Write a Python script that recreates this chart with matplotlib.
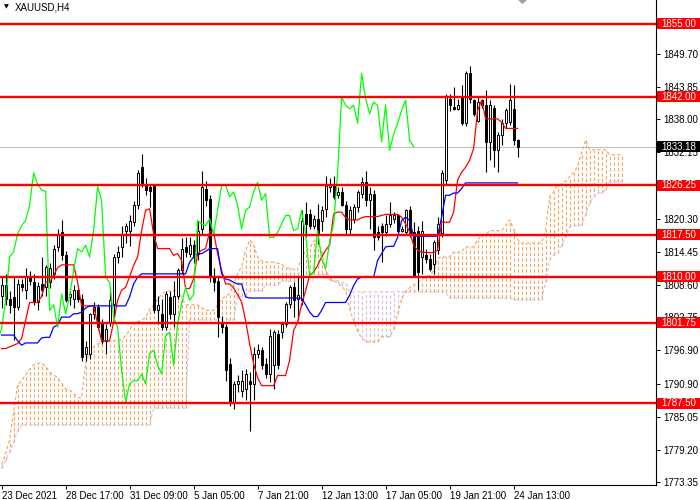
import matplotlib
matplotlib.use("Agg")
import matplotlib.pyplot as plt
from matplotlib.patches import Rectangle, Polygon
import numpy as np

# XAUUSD H4 candles, 23 Dec 2021 .. 24 Jan 2022
opens = [1806.5, 1808.5, 1806.0, 1806.4, 1804.6, 1808.7, 1807.6, 1809.9, 1809.0, 1805.5,
         1808.7, 1808.1, 1809.0, 1810.5, 1815.3, 1817.9, 1813.8, 1806.4, 1806.0, 1807.6,
         1806.0, 1796.3, 1796.3, 1803.4, 1804.6, 1801.9, 1798.6, 1801.9, 1805.2, 1813.5,
         1815.3, 1818.2, 1818.2, 1819.7, 1822.7, 1829.5, 1826.5, 1826.0, 1826.2, 1804.0,
         1803.4, 1801.0, 1806.4, 1803.4, 1806.5, 1811.1, 1815.2, 1814.1, 1815.6, 1814.1,
         1818.5, 1825.7, 1823.9, 1810.2, 1809.3, 1801.9, 1801.0, 1794.5, 1787.7, 1790.9,
         1789.7, 1790.0, 1791.5, 1790.9, 1796.3, 1796.9, 1794.5, 1792.7, 1794.2, 1799.8,
         1800.1, 1801.6, 1805.2, 1808.1, 1806.0, 1805.8, 1821.2, 1821.2, 1819.1, 1820.3,
         1820.0, 1822.1, 1826.0, 1826.3, 1824.5, 1825.1, 1822.7, 1818.5, 1820.3, 1822.4,
         1824.8, 1826.8, 1823.6, 1824.8, 1817.9, 1819.1, 1817.9, 1819.4, 1820.3, 1820.9,
         1818.2, 1817.9, 1821.8, 1817.9, 1818.2, 1813.5, 1813.8, 1813.2, 1812.3, 1814.7,
         1817.7, 1827.2, 1841.7, 1840.2, 1839.9, 1842.0, 1837.3, 1846.2, 1841.4, 1837.8,
         1841.4, 1840.5, 1834.0, 1840.0, 1832.5, 1835.3, 1837.3, 1837.5, 1839.9, 1834.3]
highs = [1810.0, 1810.5, 1807.5, 1809.9, 1809.5, 1809.5, 1811.5, 1811.0, 1810.5, 1809.0,
         1813.5, 1812.0, 1812.5, 1815.6, 1818.5, 1820.1, 1814.5, 1808.0, 1808.5, 1808.0,
         1807.0, 1798.5, 1803.5, 1805.5, 1805.2, 1802.5, 1801.5, 1808.1, 1814.0, 1815.5,
         1819.1, 1819.5, 1821.0, 1823.5, 1829.0, 1831.8, 1827.5, 1826.5, 1826.5, 1806.5,
         1806.0, 1807.5, 1807.5, 1809.3, 1811.5, 1816.8, 1817.0, 1817.0, 1816.5, 1820.0,
         1828.9, 1827.0, 1824.5, 1811.5, 1810.0, 1803.0, 1801.5, 1795.5, 1791.5, 1792.5,
         1793.3, 1793.5, 1793.0, 1797.5, 1798.0, 1797.5, 1795.5, 1800.7, 1800.5, 1800.5,
         1801.8, 1805.5, 1808.5, 1809.0, 1809.9, 1821.8, 1823.3, 1822.0, 1821.0, 1823.0,
         1822.5, 1828.0, 1827.5, 1828.0, 1826.0, 1826.0, 1823.5, 1822.5, 1823.0, 1825.4,
         1827.7, 1828.9, 1826.0, 1825.5, 1819.1, 1819.5, 1820.9, 1823.3, 1821.5, 1821.2,
         1819.1, 1822.1, 1822.5, 1819.7, 1819.0, 1819.9, 1815.0, 1814.0, 1816.5, 1820.6,
         1829.0, 1842.6, 1842.6, 1843.8, 1841.7, 1844.1, 1846.7, 1847.6, 1841.7, 1842.0,
         1841.7, 1843.2, 1841.5, 1840.5, 1835.8, 1838.0, 1840.0, 1844.4, 1844.1, 1834.5]
lows = [1804.5, 1805.0, 1803.5, 1798.7, 1804.0, 1807.5, 1806.0, 1808.5, 1805.0, 1804.0,
        1806.5, 1806.5, 1808.0, 1809.5, 1814.5, 1813.0, 1805.5, 1805.0, 1804.5, 1805.5,
        1795.0, 1795.0, 1795.4, 1802.5, 1800.5, 1798.0, 1796.3, 1801.3, 1803.0, 1812.5,
        1813.5, 1816.0, 1815.5, 1819.0, 1822.0, 1826.0, 1824.5, 1822.4, 1803.5, 1801.5,
        1800.5, 1800.5, 1802.5, 1801.0, 1806.0, 1810.5, 1813.5, 1813.5, 1812.5, 1813.0,
        1817.5, 1822.5, 1809.0, 1807.5, 1799.3, 1800.0, 1791.5, 1787.0, 1786.5, 1789.5,
        1788.5, 1788.0, 1782.6, 1788.0, 1795.5, 1793.5, 1792.0, 1791.2, 1790.0, 1793.5,
        1799.0, 1801.0, 1804.5, 1802.8, 1802.2, 1805.0, 1817.0, 1818.5, 1818.5, 1815.9,
        1818.2, 1820.6, 1825.0, 1823.8, 1824.0, 1822.5, 1817.6, 1817.6, 1819.5, 1821.5,
        1824.0, 1822.5, 1818.5, 1814.7, 1816.5, 1812.6, 1817.3, 1818.8, 1819.5, 1817.5,
        1817.9, 1817.5, 1817.0, 1810.0, 1807.6, 1810.5, 1812.5, 1811.0, 1810.5, 1814.0,
        1817.0, 1826.5, 1839.5, 1839.6, 1839.6, 1837.0, 1836.8, 1841.0, 1838.7, 1837.5,
        1840.0, 1828.6, 1830.7, 1829.5, 1828.6, 1833.5, 1836.4, 1837.0, 1833.5, 1831.3]
closes = [1808.5, 1806.0, 1805.0, 1804.6, 1808.7, 1808.1, 1809.9, 1809.3, 1805.5, 1808.4,
          1807.6, 1811.7, 1811.5, 1815.0, 1817.6, 1813.8, 1805.8, 1807.0, 1807.6, 1806.0,
          1795.7, 1797.5, 1803.4, 1804.6, 1801.0, 1798.6, 1800.7, 1805.8, 1813.5, 1814.4,
          1817.6, 1819.1, 1820.0, 1822.7, 1828.5, 1826.5, 1825.4, 1825.2, 1804.0, 1805.0,
          1801.0, 1806.9, 1803.4, 1806.5, 1811.1, 1815.0, 1814.4, 1815.6, 1813.5, 1818.2,
          1826.0, 1823.6, 1809.9, 1809.0, 1802.8, 1801.0, 1793.3, 1787.7, 1790.9, 1791.5,
          1791.5, 1792.7, 1790.9, 1796.3, 1796.9, 1794.2, 1792.7, 1799.5, 1800.1, 1794.2,
          1801.6, 1805.2, 1808.1, 1805.8, 1806.8, 1820.0, 1819.4, 1819.1, 1820.3, 1817.6,
          1821.8, 1826.2, 1826.3, 1824.2, 1825.1, 1822.7, 1818.5, 1821.8, 1822.4, 1825.1,
          1826.8, 1823.6, 1824.8, 1817.0, 1817.0, 1817.9, 1819.4, 1820.9, 1820.9, 1818.2,
          1818.5, 1821.8, 1817.6, 1810.2, 1810.8, 1818.2, 1813.2, 1811.4, 1816.2, 1819.4,
          1828.4, 1842.0, 1840.5, 1839.9, 1840.5, 1837.3, 1846.2, 1841.7, 1839.0, 1841.1,
          1840.5, 1834.0, 1840.6, 1832.5, 1835.3, 1837.3, 1839.6, 1841.4, 1834.3, 1833.18]

# Ichimoku lines as drawn on the chart
tenkan = [1797.2, 1797.2, 1797.5, 1797.8, 1798.1, 1799.0, 1802.2, 1805.4, 1805.4, 1805.4,
          1806.5, 1809.0, 1809.0, 1810.2, 1811.6, 1812.1, 1812.1, 1812.1, 1812.1, 1809.0,
          1804.8, 1804.8, 1804.8, 1804.8, 1801.6, 1798.6, 1798.6, 1798.6, 1801.9, 1805.8,
          1807.6, 1808.1, 1810.0, 1812.0, 1813.5, 1818.2, 1821.8, 1822.1, 1817.6, 1815.0,
          1815.0, 1815.0, 1815.0, 1813.8, 1814.1, 1812.9, 1807.9, 1807.9, 1809.6, 1814.1,
          1814.7, 1815.0, 1818.0, 1818.0, 1814.1, 1811.1, 1808.7, 1808.7, 1808.0, 1806.8,
          1805.5, 1802.2, 1798.1, 1794.5, 1792.0, 1790.6, 1790.6, 1790.6, 1790.6, 1792.4,
          1792.4, 1792.4, 1795.1, 1800.4, 1801.9, 1805.0, 1807.5, 1810.2, 1810.8, 1812.0,
          1813.5, 1814.7, 1815.6, 1821.2, 1821.5, 1821.5, 1820.5, 1820.1, 1820.1, 1820.1,
          1820.5, 1820.7, 1820.7, 1820.7, 1820.7, 1820.9, 1821.1, 1821.1, 1821.1, 1821.1,
          1820.6, 1819.4, 1818.0, 1815.6, 1814.7, 1814.4, 1814.3, 1814.3, 1814.3, 1814.7,
          1819.7, 1819.7, 1819.7, 1821.5, 1827.2, 1828.6, 1829.5, 1830.7, 1832.8, 1839.6,
          1841.4, 1838.1, 1838.1, 1838.1, 1838.1, 1837.5, 1836.4, 1836.4, 1836.4, 1836.4]
kijun = [1799.6, 1799.6, 1799.6, 1799.6, 1798.6, 1797.8, 1798.2, 1798.2, 1798.2, 1798.2,
         1799.1, 1799.2, 1799.2, 1801.0, 1801.4, 1802.8, 1802.8, 1802.8, 1803.4, 1803.4,
         1803.7, 1804.4, 1804.8, 1804.8, 1804.8, 1804.8, 1804.8, 1804.8, 1804.8, 1804.8,
         1804.8, 1804.8, 1806.4, 1808.7, 1809.9, 1810.5, 1810.5, 1810.5, 1810.5, 1810.5,
         1810.5, 1810.5, 1810.5, 1810.5, 1810.5, 1810.5, 1810.5, 1812.6, 1813.5, 1814.1,
         1814.1, 1814.5, 1815.0, 1815.0, 1815.0, 1810.5, 1809.6, 1809.4, 1809.0, 1808.7,
         1808.7, 1806.4, 1806.2, 1806.2, 1806.2, 1806.2, 1806.2, 1806.2, 1806.2, 1806.2,
         1806.2, 1806.2, 1806.2, 1806.2, 1806.2, 1806.2, 1805.0, 1803.7, 1802.9, 1802.9,
         1804.0, 1805.4, 1805.4, 1805.4, 1805.4, 1805.4, 1805.4, 1806.7, 1808.4, 1809.6,
         1809.9, 1809.9, 1809.9, 1809.9, 1812.9, 1814.1, 1815.3, 1815.4, 1815.4, 1817.0,
         1820.0, 1820.6, 1820.0, 1817.2, 1817.2, 1817.2, 1817.2, 1817.2, 1817.2, 1817.2,
         1820.6, 1824.5, 1824.5, 1824.9, 1824.9, 1825.7, 1826.7, 1826.7, 1826.7, 1826.7,
         1826.7, 1826.7, 1826.7, 1826.7, 1826.7, 1826.7, 1826.7, 1826.7, 1826.7, 1826.7]
# senkou spans, already shifted 26 bars ahead (156 values)
span_a = [1776.5, 1778.5, 1781.0, 1786.0, 1790.7, 1791.5, 1792.5, 1793.5, 1794.3, 1794.6,
          1794.6, 1794.0, 1793.0, 1792.5, 1792.0, 1791.0, 1790.0, 1789.8, 1789.2, 1788.5,
          1788.4, 1794.6, 1796.5, 1797.5, 1798.0, 1798.3, 1798.4, 1798.4, 1798.6, 1798.7,
          1798.8, 1799.5, 1800.4, 1801.8, 1802.0, 1802.2, 1802.8, 1804.1, 1805.0, 1806.0,
          1806.8, 1807.4, 1807.5, 1807.5, 1807.7, 1806.3, 1805.0, 1805.0, 1805.0, 1805.0,
          1804.5, 1804.0, 1804.0, 1804.0, 1805.0, 1806.0, 1806.5, 1807.0, 1808.5, 1810.5,
          1811.8, 1814.6, 1816.5, 1815.6, 1813.5, 1812.8, 1812.6, 1812.6, 1812.6, 1812.4,
          1812.2, 1811.6, 1811.5, 1811.3, 1811.2, 1813.5, 1814.5, 1815.0, 1816.3, 1816.5,
          1814.5, 1811.2, 1809.8, 1809.3, 1808.9, 1808.3, 1807.5, 1804.3, 1802.2, 1800.3,
          1799.1, 1798.4, 1798.4, 1798.4, 1798.4, 1799.3, 1799.3, 1799.3, 1800.6, 1803.3,
          1806.0, 1807.4, 1808.0, 1808.5, 1809.0, 1809.4, 1809.9, 1810.2, 1811.0, 1813.3,
          1813.5, 1813.5, 1813.5, 1814.4, 1814.4, 1814.4, 1815.3, 1815.3, 1815.3, 1816.6,
          1817.4, 1817.4, 1818.2, 1818.2, 1818.2, 1818.2, 1819.0, 1820.1, 1818.5, 1816.6,
          1816.0, 1816.0, 1816.0, 1816.0, 1816.0, 1816.0, 1818.3, 1824.2, 1825.1, 1826.3,
          1826.5, 1827.0, 1827.8, 1828.5, 1829.6, 1832.2, 1834.3, 1832.6, 1832.6, 1832.6,
          1832.6, 1832.6, 1831.7, 1831.7, 1831.7, 1831.7]
span_b = [1775.9, 1777.3, 1778.8, 1780.5, 1782.5, 1783.6, 1783.6, 1783.6, 1783.6, 1783.6,
          1783.6, 1783.6, 1783.6, 1783.6, 1783.6, 1783.6, 1783.6, 1783.6, 1783.6, 1783.6,
          1783.6, 1783.6, 1783.6, 1783.6, 1783.6, 1783.6, 1783.6, 1783.6, 1783.6, 1783.6,
          1783.6, 1783.6, 1783.6, 1783.6, 1783.6, 1783.6, 1783.6, 1783.6, 1786.6, 1786.6,
          1786.6, 1786.6, 1786.6, 1786.6, 1786.6, 1786.6, 1786.6, 1802.3, 1802.3, 1802.3,
          1802.3, 1802.3, 1802.3, 1802.3, 1802.3, 1802.3, 1802.3, 1802.3, 1802.3, 1806.5,
          1806.5, 1806.5, 1807.5, 1807.5, 1807.5, 1807.5, 1808.5, 1808.5, 1808.5, 1808.5,
          1809.2, 1809.2, 1809.2, 1809.2, 1809.2, 1810.4, 1810.4, 1810.4, 1810.4, 1810.4,
          1810.4, 1810.4, 1809.3, 1809.3, 1809.3, 1808.9, 1808.9, 1807.3, 1807.3, 1807.3,
          1807.3, 1807.3, 1807.3, 1807.3, 1807.3, 1807.3, 1807.3, 1807.3, 1807.3, 1807.3,
          1807.3, 1807.3, 1807.3, 1807.3, 1807.3, 1807.3, 1807.3, 1807.3, 1807.3, 1807.3,
          1807.3, 1807.3, 1806.2, 1806.2, 1806.2, 1806.2, 1806.2, 1806.2, 1806.2, 1806.2,
          1806.2, 1806.2, 1806.2, 1806.2, 1806.2, 1806.2, 1806.2, 1806.2, 1805.9, 1805.9,
          1805.9, 1805.9, 1805.9, 1805.9, 1805.9, 1805.9, 1809.0, 1813.0, 1813.8, 1814.2,
          1815.5, 1817.1, 1818.9, 1819.0, 1819.1, 1819.2, 1821.0, 1823.1, 1824.2, 1824.9,
          1824.9, 1825.5, 1826.9, 1826.9, 1826.9, 1826.9]

levels = [1855.00, 1842.00, 1826.25, 1817.50, 1810.00, 1801.75, 1787.50]
last_price = 1833.18
# scale labels that are not hidden behind a level label
price_ticks = [1849.70, 1843.85, 1838.00, 1832.15, 1820.30, 1814.45,
               1808.60, 1802.75, 1796.90, 1790.90, 1785.05, 1779.20, 1773.35]
date_bars = [0, 16, 32, 48, 64, 80, 96, 112, 128]
date_labels = ['23 Dec 2021', '28 Dec 17:00', '31 Dec 09:00', '5 Jan 05:00', '7 Jan 21:00',
               '12 Jan 13:00', '17 Jan 05:00', '19 Jan 21:00', '24 Jan 13:00']
chikou_shift = 26

plt.rcParams['font.family'] = ['Liberation Sans', 'DejaVu Sans']

fig = plt.figure(figsize=(7, 5), dpi=100)
ax = fig.add_axes([0, 15 / 500, 656 / 700, 485 / 500])
ax.set_xlim(-0.4, 163.6)
ax.set_ylim(1772.90, 1859.27)

o = np.array(opens); h = np.array(highs); l = np.array(lows); c = np.array(closes)
bars = np.arange(len(c))

# kumo: vertical dotted hatch per bar, coloured by which span is on top
sa = np.array(span_a); sb = np.array(span_b)
cx = np.arange(len(sa))
up = sa >= sb
ax.vlines(cx[up], sb[up], sa[up], colors='#F4A460', linestyles=(0, (3, 2)), lw=0.8, zorder=1)
ax.vlines(cx[~up], sa[~up], sb[~up], colors='#D8BFD8', linestyles=(0, (3, 2)), lw=0.8, zorder=1)
ax.plot(cx, sa, color='#F4A460', ls=(0, (3, 2)), lw=0.8, zorder=1)
ax.plot(cx, sb, color='#D8BFD8', ls=(0, (3, 2)), lw=0.8, zorder=1)

# bid line
ax.axhline(last_price, color='#C0C0C0', lw=0.8, zorder=2)

# candles
ax.vlines(bars, l, h, colors='black', lw=0.8, zorder=3)
bull = c >= o
body = np.maximum(np.abs(c - o), 0.15)
ax.bar(bars[bull], body[bull], bottom=np.minimum(o, c)[bull], width=0.55,
       facecolor='white', edgecolor='black', lw=0.7, zorder=3)
ax.bar(bars[~bull], body[~bull], bottom=np.minimum(o, c)[~bull], width=0.55,
       facecolor='black', edgecolor='black', lw=0.7, zorder=3)

# tenkan, kijun, chikou
ax.plot(bars, tenkan, color='red', lw=0.9, zorder=4)
ax.plot(bars, kijun, color='blue', lw=0.9, zorder=4)
ax.plot(bars - chikou_shift, c, color='#00FF00', lw=0.9, zorder=4)

# support / resistance levels
for lv in levels:
    ax.axhline(lv, color='red', lw=1.7, zorder=5)

# axes look
for s in ['top', 'left']:
    ax.spines[s].set_visible(False)
for s in ['right', 'bottom']:
    ax.spines[s].set_color('black')
    ax.spines[s].set_linewidth(0.8)
ax.yaxis.tick_right()
ax.set_yticks(price_ticks)
ax.set_yticklabels([f'{p:.2f}' for p in price_ticks])
ax.tick_params(axis='y', length=3, width=0.7, pad=2, labelsize=7, colors='black')
ax.set_xticks(date_bars)
ax.set_xticklabels(date_labels, ha='left')
ax.tick_params(axis='x', length=3, width=0.7, pad=1, labelsize=7, colors='black')

# price labels in the right margin
ytr = ax.get_yaxis_transform()
half = 5.5 / 5.615
for lv in levels:
    ax.add_patch(Rectangle((1.0015, lv - half), 43 / 656, 2 * half, transform=ytr,
                           facecolor='red', edgecolor='none', clip_on=False, zorder=10))
    ax.text(1.008, lv, f'{lv:.2f}', transform=ytr, color='white', fontsize=7,
            va='center', ha='left', clip_on=False, zorder=11)
ax.add_patch(Rectangle((1.0015, last_price - half), 43 / 656, 2 * half, transform=ytr,
                       facecolor='black', edgecolor='none', clip_on=False, zorder=10))
ax.text(1.008, last_price, f'{last_price:.2f}', transform=ytr, color='white', fontsize=7,
        va='center', ha='left', clip_on=False, zorder=11)

# header and chart shift marker
fig.text(4 / 700, 1 - 7 / 500, '\u25bc', fontsize=4.5, va='center', ha='left',
         family=['DejaVu Sans'])
fig.text(15 / 700, 1 - 7 / 500, 'XAUUSD,H4', fontsize=7, va='center', ha='left')
fig.patches.append(Polygon([[518 / 700, 1.0], [527 / 700, 1.0], [522.5 / 700, 1 - 4 / 500]],
                           closed=True, transform=fig.transFigure, facecolor='#A0A0A0',
                           edgecolor='none'))

fig.savefig('out.png', dpi=100)
